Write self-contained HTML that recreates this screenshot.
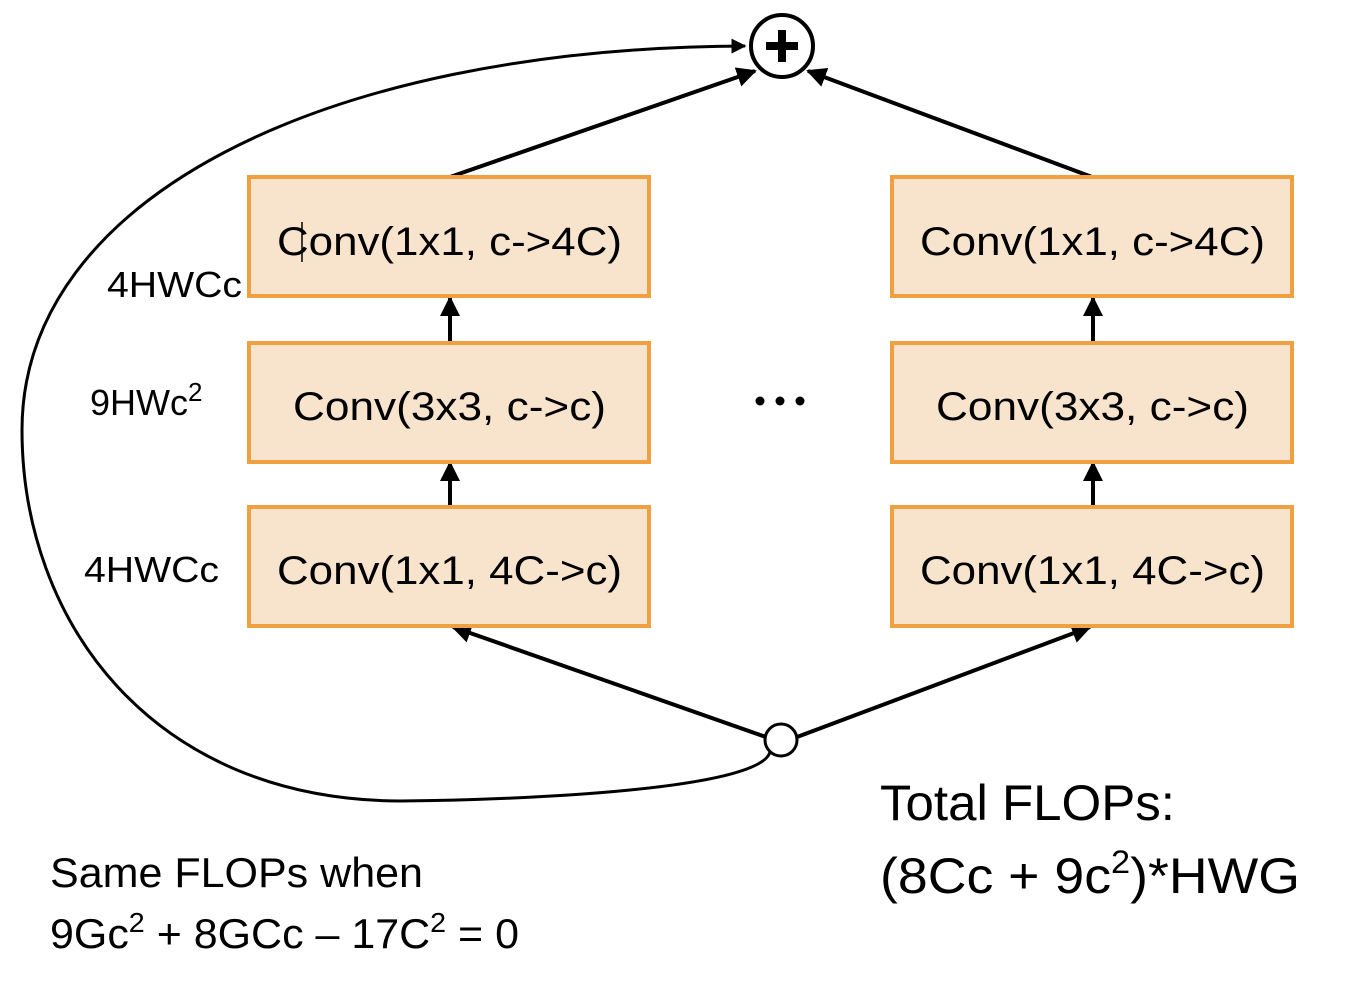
<!DOCTYPE html>
<html><head><meta charset="utf-8"><style>html,body{margin:0;padding:0;background:#fff}svg{display:block}</style></head>
<body>
<svg width="1352" height="992" viewBox="0 0 1352 992" xmlns="http://www.w3.org/2000/svg" font-family="'Liberation Sans', sans-serif">
<defs><marker id="ah" viewBox="0 0 10 10" refX="9" refY="5" markerWidth="5" markerHeight="5" orient="auto-start-reverse"><path d="M0,0 L10,5 L0,10 z" fill="#000"/></marker></defs>
<g stroke="#000" stroke-width="4" fill="none">
<path d="M770 752 C 760 790, 520 800, 400 801 C 150 800, 22 620, 22 430 C 22 200, 320 48, 745 46" stroke-width="3" marker-end="url(#ah)"/>
<line x1="450" y1="177" x2="755" y2="71" marker-end="url(#ah)"/>
<line x1="1092" y1="177" x2="808" y2="71" marker-end="url(#ah)"/>
<line x1="766" y1="737" x2="453" y2="627" marker-end="url(#ah)"/>
<line x1="797" y1="737" x2="1090" y2="627" marker-end="url(#ah)"/>
<line x1="450" y1="342" x2="450" y2="298" marker-end="url(#ah)"/>
<line x1="450" y1="506" x2="450" y2="463" marker-end="url(#ah)"/>
<line x1="1093" y1="342" x2="1093" y2="298" marker-end="url(#ah)"/>
<line x1="1093" y1="506" x2="1093" y2="463" marker-end="url(#ah)"/>
</g>
<g>
<circle cx="782" cy="46" r="31" fill="#fff" stroke="#000" stroke-width="4"/>
<rect x="766" y="42" width="32" height="8" fill="#000"/><rect x="778" y="30" width="8" height="32" fill="#000"/>
</g>
<circle cx="781" cy="740" r="16" fill="#fff" stroke="#000" stroke-width="3"/>
<g fill="#f8e4cc" stroke="#f0a040" stroke-width="4">
<rect x="249" y="177" width="400" height="119"/>
<rect x="249" y="343" width="400" height="119"/>
<rect x="249" y="507" width="400" height="119"/>
<rect x="892" y="177" width="400" height="119"/>
<rect x="892" y="343" width="400" height="119"/>
<rect x="892" y="507" width="400" height="119"/>
</g>
<g font-size="40" fill="#000">
<text x="277" y="255" textLength="345" lengthAdjust="spacingAndGlyphs">Conv(1x1, c-&gt;4C)</text>
<text x="293" y="420" textLength="313" lengthAdjust="spacingAndGlyphs">Conv(3x3, c-&gt;c)</text>
<text x="277" y="584" textLength="345" lengthAdjust="spacingAndGlyphs">Conv(1x1, 4C-&gt;c)</text>
<text x="920" y="255" textLength="345" lengthAdjust="spacingAndGlyphs">Conv(1x1, c-&gt;4C)</text>
<text x="936" y="420" textLength="313" lengthAdjust="spacingAndGlyphs">Conv(3x3, c-&gt;c)</text>
<text x="920" y="584" textLength="345" lengthAdjust="spacingAndGlyphs">Conv(1x1, 4C-&gt;c)</text>
</g>
<line x1="302" y1="222" x2="302" y2="262" stroke="#000" stroke-width="1.5"/>
<g font-size="36" fill="#000">
<text x="107" y="297" textLength="135" lengthAdjust="spacingAndGlyphs">4HWCc</text>
<text x="90" y="415">9HWc<tspan font-size="26" dy="-14">2</tspan></text>
<text x="84" y="582" textLength="135" lengthAdjust="spacingAndGlyphs">4HWCc</text>
</g>
<g fill="#000"><circle cx="760" cy="401" r="4.5"/><circle cx="780" cy="401" r="4.5"/><circle cx="800" cy="401" r="4.5"/></g>
<g fill="#000">
<text x="880" y="820" font-size="50" textLength="295" lengthAdjust="spacingAndGlyphs">Total FLOPs:</text>
<text x="880" y="893" font-size="50" textLength="420" lengthAdjust="spacingAndGlyphs">(8Cc + 9c<tspan font-size="32" dy="-20">2</tspan><tspan dy="20">)*HWG</tspan></text>
<text x="50" y="887" font-size="42" textLength="373" lengthAdjust="spacingAndGlyphs">Same FLOPs when</text>
<text x="50" y="948" font-size="42" textLength="469" lengthAdjust="spacingAndGlyphs">9Gc<tspan font-size="28" dy="-16">2</tspan><tspan dy="16"> + 8GCc – 17C</tspan><tspan font-size="28" dy="-16">2</tspan><tspan dy="16"> = 0</tspan></text>
</g>
</svg>
</body></html>
